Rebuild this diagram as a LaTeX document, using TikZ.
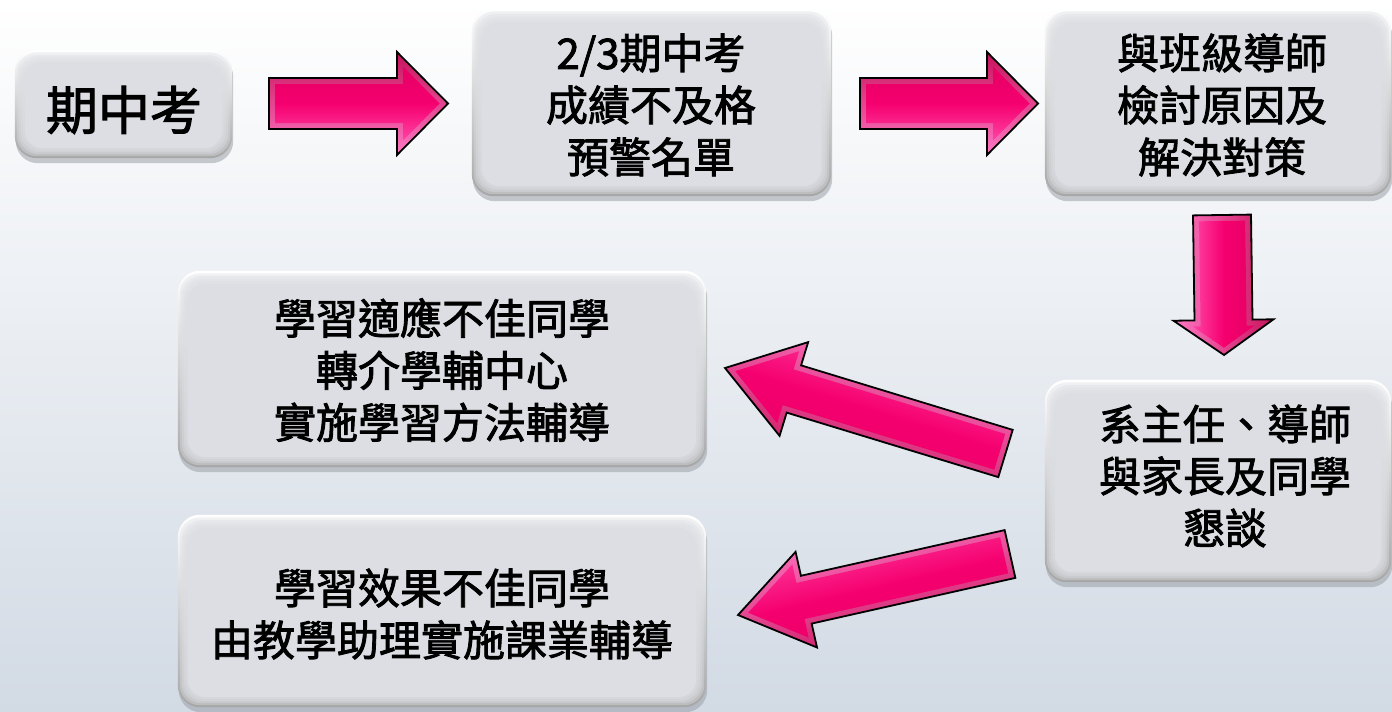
\documentclass[tikz,border=0pt]{standalone}
\usepackage{fontspec}
\setmainfont{Noto Sans CJK TC}[FakeBold=2]
\usetikzlibrary{calc}
\pgfdeclarelayer{back}
\pgfdeclarelayer{boxes}
\pgfsetlayers{back,boxes,main}
\definecolor{bgbot}{HTML}{D2DAE4}
\definecolor{boxc}{HTML}{DCDEE3}
\definecolor{pinkc}{HTML}{F5006F}
\definecolor{pinkd}{HTML}{E60064}
\definecolor{pinkl}{HTML}{FF44A4}
\definecolor{bevd}{HTML}{C8125C}
\definecolor{bevl}{HTML}{FF78C4}
\definecolor{shadowc}{HTML}{9CA1A8}
\tikzset{
  boxshape/.style={rectangle, inner sep=0pt},
  boxtext/.style={align=center, font=\fontsize{42}{52}\selectfont, inner sep=0pt},
  bigtext/.style={align=center, font=\fontsize{52}{60}\selectfont, inner sep=0pt},
  arrowouter/.style={draw=black, line width=1.8pt, line join=miter, top color=bevd, bottom color=bevl},
  arrowinner/.style={top color=pinkd, bottom color=pinkl, middle color=pinkc},
}
\newcommand\bevelbox[1]{%
  \begin{pgfonlayer}{boxes}
  \fill[shadowc, opacity=.55, rounded corners=22pt] ($(#1.north west)+(1,5)$) rectangle ($(#1.south east)+(1,5)$);
  \shade[rounded corners=22pt, top color=white, bottom color=gray!70] (#1.north west) rectangle (#1.south east);
  \foreach \i in {2,4,6,8} \fill[boxc, opacity=.4, rounded corners=20pt] ($(#1.north west)+(\i,1.3*\i)$) rectangle ($(#1.south east)+(-\i,-\i)$);
  \fill[boxc, rounded corners=18pt] ($(#1.north west)+(10,13)$) rectangle ($(#1.south east)+(-10,-10)$);
  \end{pgfonlayer}}
% #1 tail, #2 tip, #3 shaft half, #4 head half, #5 head length, #6 shading angle
\newcommand\blockarrow[6]{%
  \coordinate (hb) at ($(#2)!#5pt!(#1)$);
  \path[arrowouter, shading angle=#6]
    ($(#1)!#3pt!90:(#2)$) -- ($(hb)!#3pt!90:(#2)$) -- ($(hb)!#4pt!90:(#2)$) -- (#2)
    -- ($(hb)!#4pt!-90:(#2)$) -- ($(hb)!#3pt!-90:(#2)$) -- ($(#1)!#3pt!-90:(#2)$) -- cycle;
  \pgfmathsetmacro\abb{atan(#4/#5)}%
  \pgfmathsetmacro\aback{6/sin(\abb)}%
  \pgfmathsetmacro\aLi{#5-\aback-6}%
  \pgfmathsetmacro\ahi{\aLi*#4/#5}%
  \pgfmathsetmacro\asi{#3-6}%
  \coordinate (ti) at ($(#2)!\aback pt!(#1)$);
  \coordinate (hbi) at ($(ti)!\aLi pt!(#1)$);
  \coordinate (tli) at ($(#1)!6pt!(#2)$);
  \path[arrowinner, shading angle=#6]
    ($(tli)!\asi pt!90:(#2)$) -- ($(hbi)!\asi pt!90:(#2)$) -- ($(hbi)!\ahi pt!90:(#2)$) -- (ti)
    -- ($(hbi)!\ahi pt!-90:(#2)$) -- ($(hbi)!\asi pt!-90:(#2)$) -- ($(tli)!\asi pt!-90:(#2)$) -- cycle;}
\begin{document}
\begin{tikzpicture}[x=1pt,y=-1pt]
\useasboundingbox (0,0) rectangle (1392,712);
\begin{pgfonlayer}{back}
\shade[top color=white, bottom color=bgbot] (0,0) rectangle (1392,712);
\end{pgfonlayer}
% boxes
\node[boxshape, minimum width=217pt, minimum height=108pt] (A) at (123.5,104) {};
\node[boxshape, minimum width=359pt, minimum height=187pt] (B) at (651.5,102.5) {};
\node[boxshape, minimum width=346pt, minimum height=187pt] (C) at (1218,102.5) {};
\node[boxshape, minimum width=346pt, minimum height=202pt] (D) at (1218,481) {};
\node[boxshape, minimum width=528pt, minimum height=196pt] (E) at (442,369) {};
\node[boxshape, minimum width=528pt, minimum height=192pt] (F) at (442,611) {};
\bevelbox{A}\bevelbox{B}\bevelbox{C}\bevelbox{D}\bevelbox{E}\bevelbox{F}
% texts
\node[bigtext] (At) at (124,110) {期中考};
\node[boxtext] (Bt) at (651,105) {2/3期中考\\成績不及格\\預警名單};
\node[boxtext] (Ct) at (1222,105) {與班級導師\\檢討原因及\\解決對策};
\node[boxtext] (Dt) at (1225,476) {系主任、導師\\與家長及同學\\懇談};
\node[boxtext] (Et) at (442,370) {學習適應不佳同學\\轉介學輔中心\\實施學習方法輔導};
\node[boxtext] (Ft) at (442,614) {學習效果不佳同學\\由教學助理實施課業輔導};
% arrows
\coordinate (a1s) at (269,103.5); \coordinate (a1e) at (448,103.5);
\coordinate (a2s) at (860,103.5); \coordinate (a2e) at (1038,103.5);
\coordinate (a3s) at (1222,215);  \coordinate (a3e) at (1224,355);
\coordinate (a4s) at (1005.5,453.5); \coordinate (a4e) at (725,368);
\coordinate (a5s) at (1010,554); \coordinate (a5e) at (738,615);
\blockarrow{a1s}{a1e}{25.5}{51.5}{51}{0}
\blockarrow{a2s}{a2e}{25.5}{51.5}{51}{0}
\blockarrow{a3s}{a3e}{29}{50}{35}{-90}
\blockarrow{a4s}{a4e}{24.7}{49}{72}{163}
\blockarrow{a5s}{a5e}{24.5}{49}{70}{-167}
\end{tikzpicture}
\end{document}
